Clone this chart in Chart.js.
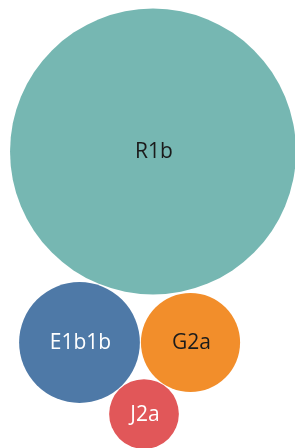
<!DOCTYPE html>
<html>
<head>
<meta charset="utf-8">
<script src="https://cdn.jsdelivr.net/npm/chart.js@4"></script>
<style>
  html, body { margin: 0; padding: 0; background: #fff; }
  canvas { display: block; }
</style>
</head>
<body>
<canvas id="bubbleChart" width="295" height="448"></canvas>
<script>
  // haplogroup shares (bubble area)
  const groups = ["R1b", "E1b1b", "G2a", "J2a"];
  const shares = [74, 13.2, 8.9, 4.4];
  // packed layout positions
  const packX = [153, 79.5, 190.5, 144];
  const packY = [151.5, 342.5, 342.5, 414];
  const colors = ["#76b7b2", "#4e79a7", "#f28e2b", "#e15759"];
  const labelColors = ["#1b1b1b", "#ffffff", "#1b1b1b", "#ffffff"];

  const radiusScale = 16.62;

  // draw the group name in the middle of each bubble
  const labelPlugin = {
    id: "bubbleLabels",
    afterDatasetsDraw(chart) {
      const ctx = chart.ctx;
      const meta = chart.getDatasetMeta(0);
      ctx.save();
      ctx.font = "21px 'Open Sans', 'Noto Sans', sans-serif";
      ctx.textAlign = "center";
      ctx.textBaseline = "middle";
      meta.data.forEach((el, i) => {
        ctx.fillStyle = labelColors[i];
        ctx.fillText(groups[i], el.x + 1, el.y + 1);
      });
      ctx.restore();
    },
  };

  const bubbleCtx = document.getElementById("bubbleChart").getContext("2d");
  const bubbleChart = new Chart(bubbleCtx, {
    type: "bubble",
    data: {
      labels: groups,
      datasets: [
        {
          data: groups.map((g, i) => ({
            x: packX[i],
            y: packY[i],
            r: radiusScale * Math.sqrt(shares[i]),
          })),
          backgroundColor: colors,
          borderWidth: 0,
          hoverBorderWidth: 0,
          clip: false,
        },
      ],
    },
    options: {
      responsive: false,
      animation: false,
      layout: { padding: 0, autoPadding: false },
      plugins: {
        legend: { display: false },
        tooltip: { enabled: false },
      },
      scales: {
        x: { type: "linear", min: 0, max: 295, display: false },
        y: { type: "linear", min: 0, max: 448, reverse: true, display: false },
      },
    },
    plugins: [labelPlugin],
  });
</script>
</body>
</html>
